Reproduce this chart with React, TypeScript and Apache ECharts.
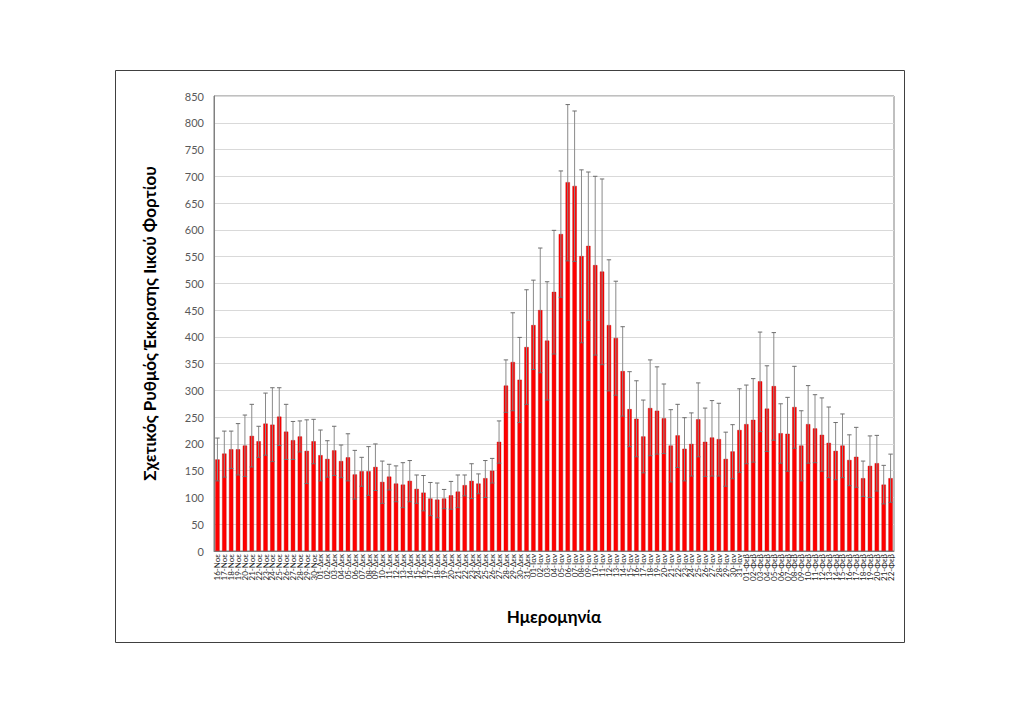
import React, { useEffect, useRef } from "react";
import * as echarts from "echarts";

const monthSpans: [string, number, number][] = [
  ["Νοε", 16, 30],
  ["Δεκ", 1, 31],
  ["Ιαν", 1, 31],
  ["Φεβ", 1, 22],
];

const categories: string[] = [];
monthSpans.forEach(([m, a, b]) => {
  for (let d = a; d <= b; d++) categories.push((d < 10 ? "0" + d : "" + d) + "-" + m);
});

const meanValues = [
  171, 182, 190, 190, 197, 215, 205, 238, 236, 251, 223, 207, 214, 187, 205,
  179, 172, 188, 168, 175, 143, 149, 149, 157,
  129, 139, 126, 124, 131, 116, 109, 98, 96, 98, 104, 111, 123, 131, 126, 136, 150, 204,
  309, 353, 320, 381, 422, 450, 393, 484, 592, 689, 682, 551, 570, 534, 522, 422, 398, 336, 265, 247,
  214, 267, 262, 248, 197, 216, 191, 200, 246, 204, 212, 209, 172, 186, 226, 237, 245, 317, 266,
  308, 220, 219, 269, 197, 237, 229, 217, 202, 187, 197, 170, 176, 136, 159, 164, 124, 136,
];

const upperValues = [
  211, 224, 224, 238, 254, 274, 233, 295, 305, 305, 274, 242, 243, 245, 246,
  226, 206, 233, 198, 219, 188, 175, 195, 200,
  168, 162, 159, 165, 169, 142, 141, 128, 127, 115, 130, 142, 142, 163, 144, 169, 173, 243,
  357, 445, 399, 488, 506, 566, 503, 599, 710, 834, 822, 712, 708, 700, 695, 544, 504, 419, 335, 318,
  282, 357, 344, 312, 264, 274, 249, 258, 314, 267, 281, 276, 222, 236, 303, 310, 322, 409, 346,
  408, 275, 287, 345, 262, 309, 292, 286, 269, 240, 256, 217, 231, 168, 215, 216, 160, 181,
];

const lowerValues = [
  131, 138, 154, 142, 139, 157, 175, 179, 167, 197, 171, 171, 185, 126, 163,
  131, 138, 141, 137, 131, 97, 121, 104, 113,
  89, 114, 92, 81, 92, 89, 75, 66, 62, 79, 78, 81, 103, 98, 107, 100, 127, 164,
  259, 262, 240, 274, 339, 333, 282, 368, 474, 542, 541, 389, 431, 366, 348, 299, 291, 252, 195, 176,
  146, 178, 181, 182, 129, 156, 131, 140, 176, 139, 140, 140, 121, 135, 147, 163, 166, 223, 186,
  207, 164, 149, 192, 131, 164, 165, 149, 137, 133, 137, 122, 119, 102, 100, 112, 88, 91,
];

const yAxisTitle = "Σχετικός Ρυθμός Έκκρισης Ιικού Φορτίου";
const xAxisTitle = "Ημερομηνία";

const FONT = "Lato, 'Open Sans', sans-serif";

export default function App() {
  const ref = useRef<HTMLDivElement>(null);
  useEffect(() => {
    document.body.style.margin = "0";
    if (!ref.current) return;
    const chart = echarts.init(ref.current, null, { renderer: "svg" });
    const errData = categories.map((_, i) => [i, lowerValues[i], upperValues[i]]);
    chart.setOption({
      animation: false,
      backgroundColor: "#ffffff",
      textStyle: { fontFamily: FONT },
      graphic: [
        {
          type: "rect",
          shape: { x: 115.5, y: 70.5, width: 789, height: 572 },
          style: { fill: "none", stroke: "#404040", lineWidth: 1 },
          silent: true,
        },
      ],
      grid: {
        left: 214,
        right: 130,
        top: 96,
        bottom: 173,
        show: true,
        borderColor: "#808080",
        borderWidth: 1,
      },
      xAxis: {
        type: "category",
        data: categories,
        name: xAxisTitle,
        nameLocation: "middle",
        nameGap: 57,
        nameTextStyle: { fontFamily: FONT, fontSize: 17, fontWeight: "bold", color: "#000" },
        axisLine: { show: true, lineStyle: { color: "#808080" } },
        axisTick: { show: false },
        axisLabel: {
          interval: 0,
          rotate: 90,
          fontSize: 8,
          margin: 3,
          color: "#262626",
          fontFamily: FONT,
        },
      },
      yAxis: {
        type: "value",
        min: 0,
        max: 850,
        interval: 50,
        name: yAxisTitle,
        nameLocation: "middle",
        nameRotate: 90,
        nameGap: 56,
        nameTextStyle: { fontFamily: FONT, fontSize: 17, fontWeight: "bold", color: "#000" },
        axisLine: { show: true, lineStyle: { color: "#808080" } },
        axisTick: { show: false },
        axisLabel: { fontSize: 11, color: "#595959", margin: 10, fontFamily: FONT },
        splitLine: { lineStyle: { color: "#d9d9d9" } },
      },
      series: [
        {
          type: "bar",
          data: meanValues,
          barWidth: "62%",
          itemStyle: { color: "#ff0000", borderColor: "#c00000", borderWidth: 0.4 },
        },
        {
          type: "custom",
          data: errData,
          encode: { x: 0, y: [1, 2] },
          z: 5,
          renderItem: (params: any, api: any) => {
            const idx = api.value(0);
            const lo = api.coord([idx, api.value(1)]);
            const hi = api.coord([idx, api.value(2)]);
            const half = 2.2;
            const st = { stroke: "#8a8a8a", lineWidth: 1 };
            return {
              type: "group",
              children: [
                { type: "line", shape: { x1: lo[0], y1: lo[1], x2: hi[0], y2: hi[1] }, style: st },
                { type: "line", shape: { x1: lo[0] - half, y1: lo[1], x2: lo[0] + half, y2: lo[1] }, style: { stroke: "#6e6e6e", lineWidth: 1 } },
                { type: "line", shape: { x1: hi[0] - half, y1: hi[1], x2: hi[0] + half, y2: hi[1] }, style: { stroke: "#6e6e6e", lineWidth: 1 } },
              ],
            };
          },
        },
      ],
    });
    return () => chart.dispose();
  }, []);
  return <div ref={ref} style={{ width: 1024, height: 724 }} />;
}
